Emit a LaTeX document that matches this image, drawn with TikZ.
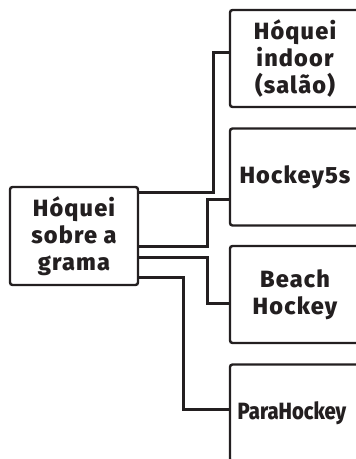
\documentclass[tikz,border=0pt]{standalone}
\usepackage{fontspec}
\usepackage{graphicx}
\setmainfont{Fira Sans}[BoldFont={Fira Sans ExtraBold}]
\usetikzlibrary{positioning}
\definecolor{ink}{HTML}{231F20}

\begin{document}
\begin{tikzpicture}[x=1pt,y=-1pt,font=\bfseries\fontsize{23.5}{27}\selectfont\addfontfeature{LetterSpace=5},
  box/.style={draw=ink,line width=2.4pt,rounded corners=2.5pt,fill=white,align=center,text=ink,
    minimum width=130pt,minimum height=97pt,inner sep=0pt},
  link/.style={draw=ink,line width=3pt}]
\useasboundingbox (0,0) rectangle (356,459);
\clip (0,0) rectangle (356,459);
% root
\node[box,minimum width=128pt,minimum height=98pt] (grama) at (74,236) {Hóquei\\sobre a\\grama};
% variants, right column (cut by the page edge)
\node[box] (indoor) at (295,58.5) {Hóquei\\indoor\\(salão)};
\node[box] (cinco) at (295,177) {Hockey5s};
\node[box] (praia) at (295,294.5) {Beach\\Hockey};
\node[box,font=\bfseries\fontsize{23.5}{27}\selectfont] (para) at (295,413) {\hspace*{-6pt}\scalebox{0.86}[1]{ParaHockey}};
% elbow links
\draw[link] ([yshift=44pt]grama.east) -- ++(74.5,0) |- ([yshift=6.5pt]indoor.west);
\draw[link] ([yshift=-10pt]grama.east) -- ++(68,0) |- ([yshift=-22pt]cinco.west);
\draw[link] ([yshift=-21pt]grama.east) -- ++(68.5,0) |- ([yshift=-8.5pt]praia.west);
\draw[link] ([yshift=-41pt]grama.east) -- ++(44.5,0) |- ([yshift=4pt]para.west);
\end{tikzpicture}
\end{document}
